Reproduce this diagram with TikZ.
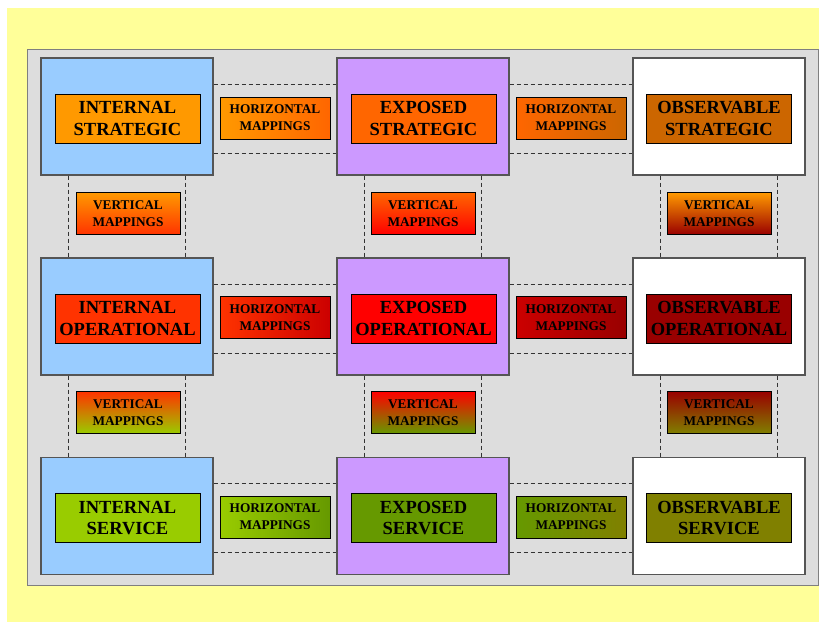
\documentclass[tikz,border=0pt]{standalone}
\usepackage{fontspec}
\setmainfont{Liberation Serif}
\definecolor{bgyellow}{HTML}{FFFF99}
\definecolor{panelgray}{HTML}{DDDDDD}
\definecolor{panelborder}{HTML}{7F7F7F}
\definecolor{boxborder}{HTML}{555555}
\definecolor{intblue}{HTML}{99CCFF}
\definecolor{exppurple}{HTML}{CC99FF}
\definecolor{cIS}{HTML}{FF9900}
\definecolor{cES}{HTML}{FF6600}
\definecolor{cOS}{HTML}{CC6600}
\definecolor{cIO}{HTML}{FF3300}
\definecolor{cEO}{HTML}{FF0000}
\definecolor{cOO}{HTML}{990000}
\definecolor{cHO}{HTML}{CC0000}
\definecolor{cIV}{HTML}{99CC00}
\definecolor{cEV}{HTML}{669900}
\definecolor{cOV}{HTML}{808000}
\tikzset{
  bigbox/.style={draw=boxborder, line width=1.2pt, minimum width=172pt, minimum height=117pt, inner sep=0pt},
  layerbox/.style={draw=black, line width=0.9pt, minimum width=145pt, minimum height=49pt, inner sep=0pt, align=center,
    font=\fontsize{18.5}{21.7}\selectfont\bfseries},
  hmap/.style={draw=black, line width=0.9pt, minimum width=110pt, minimum height=42pt, inner sep=0pt, align=center,
    font=\fontsize{13.3}{16.7}\selectfont\bfseries},
  vmap/.style={draw=black, line width=0.9pt, minimum width=104pt, minimum height=42pt, inner sep=0pt, align=center,
    font=\fontsize{13.3}{16.7}\selectfont\bfseries},
  dashline/.style={draw=black!80, line width=0.7pt, dash pattern=on 4pt off 3pt}
}
\begin{document}
\begin{tikzpicture}[x=1pt,y=-1pt]
\useasboundingbox (0,0) rectangle (819,622);
\fill[bgyellow] (7,8) rectangle (819,622);
\draw[fill=panelgray, draw=panelborder, line width=1pt] (27,49) rectangle (818,585);

% big boxes
\node[bigbox, fill=intblue] (A1) at (127,116.5) {};
\node[bigbox, fill=exppurple] (B1) at (423,116.5) {};
\node[bigbox, fill=white] (C1) at (719,116.5) {};
\node[bigbox, fill=intblue] (A2) at (127,316.5) {};
\node[bigbox, fill=exppurple] (B2) at (423,316.5) {};
\node[bigbox, fill=white] (C2) at (719,316.5) {};
\node[bigbox, fill=intblue] (A3) at (127,515.8) {};
\node[bigbox, fill=exppurple] (B3) at (423,515.8) {};
\node[bigbox, fill=white] (C3) at (719,515.8) {};

% horizontal dashed connectors
\foreach \l/\r in {A1/B1,B1/C1,A2/B2,B2/C2,A3/B3,B3/C3}{
  \draw[dashline] ([yshift=32pt]\l.east) -- ([yshift=32pt]\r.west);
  \draw[dashline] ([yshift=-37pt]\l.east) -- ([yshift=-37pt]\r.west);
}
% vertical dashed connectors
\foreach \t/\b in {A1/A2,A2/A3,B1/B2,B2/B3,C1/C2,C2/C3}{
  \draw[dashline] ([xshift=-58.5pt]\t.south) -- ([xshift=-58.5pt]\b.north);
  \draw[dashline] ([xshift=58.5pt]\t.south) -- ([xshift=58.5pt]\b.north);
}

% layer boxes
\node[layerbox, fill=cIS] (is) at (127.5,118.5) {INTERNAL\\STRATEGIC};
\node[layerbox, fill=cES] (es) at (423.5,118.5) {EXPOSED\\STRATEGIC};
\node[layerbox, fill=cOS] (os) at (719,118.5) {OBSERVABLE\\STRATEGIC};
\node[layerbox, fill=cIO] (io) at (127.5,318.5) {INTERNAL\\OPERATIONAL};
\node[layerbox, fill=cEO] (eo) at (423.5,318.5) {EXPOSED\\OPERATIONAL};
\node[layerbox, fill=cOO] (oo) at (719,318.5) {OBSERVABLE\\OPERATIONAL};
\node[layerbox, fill=cIV] (iv) at (127.5,518) {INTERNAL\\SERVICE};
\node[layerbox, fill=cEV] (ev) at (423.5,518) {EXPOSED\\SERVICE};
\node[layerbox, fill=cOV] (ov) at (719,518) {OBSERVABLE\\SERVICE};

% horizontal mappings
\node[hmap, left color=cIS, right color=cES] (h11) at (275,118) {HORIZONTAL\\MAPPINGS};
\node[hmap, left color=cES, right color=cOS] (h12) at (571,118) {HORIZONTAL\\MAPPINGS};
\node[hmap, left color=cIO, right color=cHO] (h21) at (275,317.5) {HORIZONTAL\\MAPPINGS};
\node[hmap, left color=cHO, right color=cOO] (h22) at (571,317.5) {HORIZONTAL\\MAPPINGS};
\node[hmap, left color=cIV, right color=cEV] (h31) at (275,517) {HORIZONTAL\\MAPPINGS};
\node[hmap, left color=cEV, right color=cOV] (h32) at (571,517) {HORIZONTAL\\MAPPINGS};

% vertical mappings
\node[vmap, top color=cIS, bottom color=cIO] (v11) at (128,213.5) {VERTICAL\\MAPPINGS};
\node[vmap, top color=cES, bottom color=cEO] (v12) at (423,213.5) {VERTICAL\\MAPPINGS};
\node[vmap, top color=cIS, bottom color=cOO] (v13) at (719,213.5) {VERTICAL\\MAPPINGS};
\node[vmap, top color=cIO, bottom color=cIV] (v21) at (128,412.5) {VERTICAL\\MAPPINGS};
\node[vmap, top color=cEO, bottom color=cEV] (v22) at (423,412.5) {VERTICAL\\MAPPINGS};
\node[vmap, top color=cOO, bottom color=cOV] (v23) at (719,412.5) {VERTICAL\\MAPPINGS};
\end{tikzpicture}
\end{document}
